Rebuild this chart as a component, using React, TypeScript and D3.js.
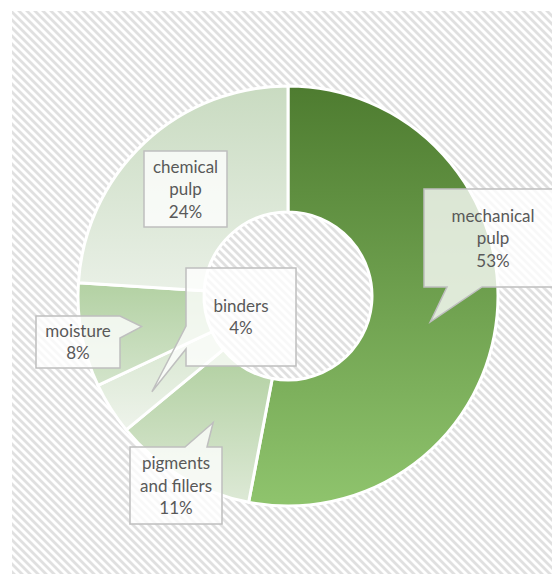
import React from 'react';
import * as d3 from 'd3';

// paper composition, clockwise from 12 o'clock
const categories = ['mechanical pulp', 'pigments and fillers', 'binders', 'moisture', 'chemical pulp'];
const shares = [53, 11, 4, 8, 24];
const labelLines = [
  ['mechanical', 'pulp'],
  ['pigments', 'and fillers'],
  ['binders'],
  ['moisture'],
  ['chemical', 'pulp'],
];

// top / bottom colour of each slice's vertical gradient
const sliceGradients = [
  ['#4e7c30', '#8fc46d'],
  ['#b0cf9f', '#dde9d6'],
  ['#d6e6ce', '#eef3eb'],
  ['#b3d1a3', '#d3e4cb'],
  ['#c9dbc1', '#e9f0e6'],
];

// callout boxes: centre, size, which side the pointer leaves from, pointer base offsets, tip nudge
const callouts = [
  { cx: 493, cy: 238, w: 138, h: 98, side: 'bottom', b0: 23, b1: 58, nx: -4, ny: 12 },
  { cx: 176, cy: 485.5, w: 92, h: 77, side: 'top', b0: 55, b1: 77, nx: 0, ny: 0 },
  { cx: 241, cy: 317, w: 110, h: 98, side: 'left', b0: 58, b1: 81, nx: -12, ny: 17 },
  { cx: 78, cy: 342, w: 84, h: 52, side: 'right', b0: 0, b1: 22, nx: -2, ny: 3 },
  { cx: 185.5, cy: 189, w: 83, h: 76, side: 'none', b0: 0, b1: 0, nx: 0, ny: 0 },
];

const W = 552;
const H = 574;
const CX = 288;
const CY = 296;
const R_OUT = 210;
const R_IN = 84;

function calloutPath(c: typeof callouts[number], tip: [number, number]) {
  const x0 = c.cx - c.w / 2;
  const y0 = c.cy - c.h / 2;
  const x1 = x0 + c.w;
  const y1 = y0 + c.h;
  const [tx, ty] = tip;
  const p = d3.path();
  p.moveTo(x0, y0);
  if (c.side === 'top') {
    p.lineTo(x0 + c.b0, y0); p.lineTo(tx, ty); p.lineTo(x0 + c.b1, y0);
  }
  p.lineTo(x1, y0);
  if (c.side === 'right') {
    p.lineTo(x1, y0 + c.b0); p.lineTo(tx, ty); p.lineTo(x1, y0 + c.b1);
  }
  p.lineTo(x1, y1);
  if (c.side === 'bottom') {
    p.lineTo(x0 + c.b1, y1); p.lineTo(tx, ty); p.lineTo(x0 + c.b0, y1);
  }
  p.lineTo(x0, y1);
  if (c.side === 'left') {
    p.lineTo(x0, y0 + c.b1); p.lineTo(tx, ty); p.lineTo(x0, y0 + c.b0);
  }
  p.closePath();
  return p.toString();
}

export default function App() {
  const pie = d3.pie<number>().sort(null).value(d => d).startAngle(0).endAngle(Math.PI * 2);
  const arcs = pie(shares);
  const arc = d3.arc<d3.PieArcDatum<number>>().innerRadius(R_IN).outerRadius(R_OUT);
  const total = d3.sum(shares);
  const pct = d3.format('.0%');

  return (
    <svg
      width={W}
      height={H}
      viewBox={`0 0 ${W} ${H}`}
      style={{ position: 'absolute', left: 0, top: 0, display: 'block' }}
      fontFamily="Lato, 'Open Sans', sans-serif"
    >
      <defs>
        <pattern id="hatch" patternUnits="userSpaceOnUse" width={8} height={8}>
          <rect width={8} height={8} fill="#ffffff" />
          <path d="M-2,-2L10,10M-2,6L6,14M6,-2L14,6" stroke="#e0e0e0" strokeWidth={2.8} />
        </pattern>
        {sliceGradients.map((g, i) => (
          <linearGradient key={i} id={`slice-${i}`} x1="0" y1="0" x2="0" y2="1">
            <stop offset="0%" stopColor={g[0]} />
            <stop offset="100%" stopColor={g[1]} />
          </linearGradient>
        ))}
      </defs>

      <rect x={0} y={0} width={W} height={H} fill="#ffffff" />
      <rect x={12} y={11} width={W - 12} height={H - 11} fill="url(#hatch)" />

      <g transform={`translate(${CX},${CY})`}>
        {arcs.map((a, i) => (
          <path
            key={categories[i]}
            d={arc(a) || ''}
            fill={`url(#slice-${i})`}
            stroke="#ffffff"
            strokeWidth={3}
            strokeLinejoin="round"
          />
        ))}
      </g>

      {arcs.map((a, i) => {
        const c = callouts[i];
        const [mx, my] = arc.centroid(a);
        const tip: [number, number] = [CX + mx + c.nx, CY + my + c.ny];
        const lines = [...labelLines[i], pct(a.data / total)];
        const lh = 22.5;
        const first = c.cy - ((lines.length - 1) * lh) / 2 + 6;
        return (
          <g key={`label-${i}`}>
            <path
              d={calloutPath(c, tip)}
              fill="#ffffff"
              fillOpacity={0.78}
              stroke="#bfbfbf"
              strokeWidth={1.5}
            />
            <text textAnchor="middle" fill="#595959" fontSize={17}>
              {lines.map((t, j) => (
                <tspan key={j} x={c.cx} y={first + j * lh}>{t}</tspan>
              ))}
            </text>
          </g>
        );
      })}
    </svg>
  );
}
